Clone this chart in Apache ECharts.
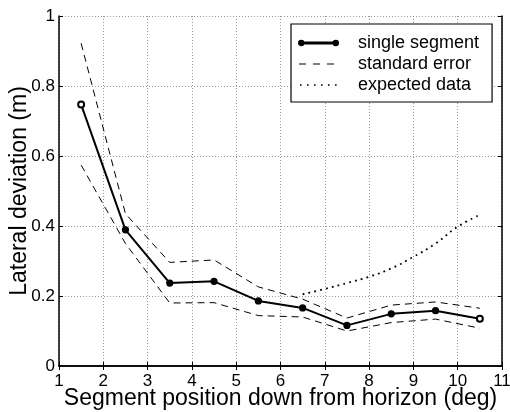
<!DOCTYPE html>
<html>
<head>
<meta charset="utf-8">
<script src="https://cdn.jsdelivr.net/npm/echarts@6/dist/echarts.min.js"></script>
<style>
  html, body { margin: 0; padding: 0; background: #fff; }
  #chart { width: 510px; height: 412px; }
</style>
</head>
<body>
<div id="chart"></div>
<script>
// values
const positions = [1.5, 2.5, 3.5, 4.5, 5.5, 6.5, 7.5, 8.5, 9.5, 10.5];
const singleSegment = [0.747, 0.389, 0.237, 0.242, 0.186, 0.166, 0.116, 0.149, 0.158, 0.135];
const upperError = [0.922, 0.435, 0.296, 0.303, 0.226, 0.191, 0.137, 0.174, 0.183, 0.165];
const lowerError = [0.574, 0.350, 0.180, 0.181, 0.144, 0.140, 0.100, 0.124, 0.134, 0.108];
const expectedX = [6.5, 7, 7.5, 8, 8.5, 9, 9.5, 10, 10.5];
const expectedY = [0.205, 0.220, 0.237, 0.255, 0.279, 0.312, 0.350, 0.398, 0.432];

const font = 'Liberation Sans, Arial, Helvetica, sans-serif';

const pairs = (xs, ys) => xs.map((x, i) => [x, ys[i]]);

const segData = positions.map((x, i) => {
	const ends = i === 0 || i === positions.length - 1;
	return { value: [x, singleSegment[i]], symbol: ends ? 'emptyCircle' : 'circle' };
});

// legend icons (39 x 14 box)
const segIcon = 'path://M2,6.4 L37,6.4 L37,7.6 L2,7.6 Z M0.3,7 A2.2,2.2 0 1 0 4.7,7 A2.2,2.2 0 1 0 0.3,7 Z M34.3,7 A2.2,2.2 0 1 0 38.7,7 A2.2,2.2 0 1 0 34.3,7 Z';
const dashIcon = 'path://M0,0 L39,0 L39,0.01 L0,0.01 Z M0,6.5 L7,6.5 L7,7.5 L0,7.5 Z M14,6.5 L21,6.5 L21,7.5 L14,7.5 Z M28,6.5 L35,6.5 L35,7.5 L28,7.5 Z M0,14 L39,14 L39,14.01 L0,14.01 Z';
const dotIcon = 'path://M0,0 L39,0 L39,0.01 L0,0.01 Z M1,6.2 L2.6,6.2 L2.6,7.8 L1,7.8 Z M8,6.2 L9.6,6.2 L9.6,7.8 L8,7.8 Z M15,6.2 L16.6,6.2 L16.6,7.8 L15,7.8 Z M22,6.2 L23.6,6.2 L23.6,7.8 L22,7.8 Z M29,6.2 L30.6,6.2 L30.6,7.8 L29,7.8 Z M36,6.2 L37.6,6.2 L37.6,7.8 L36,7.8 Z M0,14 L39,14 L39,14.01 L0,14.01 Z';

const chart = echarts.init(document.getElementById('chart'));

const axisCommon = {
	axisLine: { lineStyle: { color: '#000', width: 1.5 } },
	axisTick: { inside: true, length: 4, lineStyle: { color: '#000', width: 1 } }
};

const option = {
	animation: false,
	backgroundColor: '#fff',
	grid: { left: 59, right: 8, top: 16, bottom: 46, containLabel: false, outerBoundsMode: 'none' },
	legend: {
		orient: 'vertical',
		left: 291,
		top: 24,
		padding: [10, 13, 8, 7],
		itemWidth: 39,
		itemHeight: 14,
		itemGap: 3,
		backgroundColor: '#fff',
		borderColor: '#000',
		borderWidth: 1.2,
		borderRadius: 0,
		textStyle: { fontFamily: font, fontSize: 18, color: '#000', padding: [0, 0, 0, 15] },
		data: [
			{ name: 'single segment', icon: segIcon },
			{ name: 'standard error', icon: dashIcon },
			{ name: 'expected data', icon: dotIcon }
		]
	},
	xAxis: [
		Object.assign({
			type: 'value', min: 1, max: 11, interval: 1,
			name: 'Segment position down from horizon (deg)',
			nameLocation: 'middle', nameGap: 21, nameMoveOverlap: false,
			nameTextStyle: { fontFamily: font, fontSize: 23, color: '#000' },
			axisLabel: { fontFamily: font, fontSize: 17, color: '#000', margin: 7 },
			splitLine: { show: true, lineStyle: { color: '#999', type: [1, 2], width: 1 } }
		}, axisCommon),
		Object.assign({
			type: 'value', min: 1, max: 11, interval: 1, position: 'top',
			axisLabel: { show: false }, splitLine: { show: false }
		}, axisCommon)
	],
	yAxis: [
		Object.assign({
			type: 'value', min: 0, max: 1, interval: 0.2,
			name: 'Lateral deviation (m)',
			nameLocation: 'middle', nameGap: 28, nameRotate: 90, nameMoveOverlap: false,
			nameTextStyle: { fontFamily: font, fontSize: 23, color: '#000' },
			axisLabel: { fontFamily: font, fontSize: 17, color: '#000', margin: 4 },
			splitLine: { show: true, lineStyle: { color: '#999', type: [1, 2], width: 1 } }
		}, axisCommon),
		Object.assign({
			type: 'value', min: 0, max: 1, interval: 0.2, position: 'right',
			axisLabel: { show: false }, splitLine: { show: false }
		}, axisCommon)
	],
	series: [
		{
			name: 'standard error', type: 'line', symbol: 'none',
			data: pairs(positions, upperError),
			lineStyle: { color: '#000', width: 1, type: [7, 5] },
			itemStyle: { color: '#000' }
		},
		{
			name: 'standard error', type: 'line', symbol: 'none',
			data: pairs(positions, lowerError),
			lineStyle: { color: '#000', width: 1, type: [7, 5] },
			itemStyle: { color: '#000' }
		},
		{
			name: 'expected data', type: 'line', symbol: 'none', smooth: true,
			data: pairs(expectedX, expectedY),
			lineStyle: { color: '#000', width: 1.8, type: [1.8, 4.2] },
			itemStyle: { color: '#000' }
		},
		{
			name: 'single segment', type: 'line', symbolSize: 6,
			data: segData,
			lineStyle: { color: '#000', width: 2 },
			itemStyle: { color: '#000', borderColor: '#000', borderWidth: 1.2 },
			z: 5
		}
	]
};

chart.setOption(option);
</script>
</body>
</html>
